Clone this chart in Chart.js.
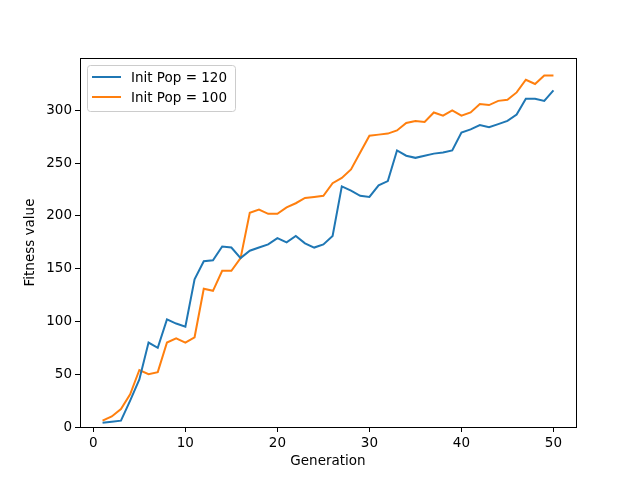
<!DOCTYPE html>
<html>
<head>
<meta charset="utf-8">
<script src="https://cdn.jsdelivr.net/npm/chart.js@4/dist/chart.umd.min.js"></script>
<style>
  html, body { margin: 0; padding: 0; background: #fff; }
  #wrap { width: 640px; height: 480px; }
</style>
</head>
<body>
<div id="wrap"><canvas id="c" width="640" height="480"></canvas></div>
<script>
// values
const generations = Array.from({ length: 50 }, (_, i) => i + 1);
const pop120 = [4, 5, 6, 25, 45, 80, 75, 102, 98, 95,
  140, 157, 158, 171, 170, 160, 167, 170, 173, 179,
  175, 181, 174, 170, 173, 181, 228, 224, 219, 218,
  229, 233, 262, 257, 255, 257, 259, 260, 262, 279,
  282, 286, 284, 287, 290, 296, 311, 311, 309, 319];
const pop100 = [6, 10, 17, 31, 54, 50, 52, 80, 84, 80,
  85, 131, 129, 148, 148, 160, 203, 206, 202, 202,
  208, 212, 217, 218, 219, 231, 236, 244, 260, 276,
  277, 278, 281, 288, 290, 289, 298, 295, 300, 295,
  298, 306, 305, 309, 310, 317, 329, 325, 333, 333];
const xTicks = [0, 10, 20, 30, 40, 50];
const yTicks = [0, 50, 100, 150, 200, 250, 300];
const seriesLabels = ['Init Pop = 120', 'Init Pop = 100'];
const seriesColors = ['#1f77b4', '#ff7f0e'];

const FONT = 'DejaVu Sans';

// draws the axes frame and the boxed legend like matplotlib
const framePlugin = {
  id: 'frame',
  afterDraw(chart) {
    const { ctx, chartArea: a } = chart;
    ctx.save();
    ctx.strokeStyle = '#000';
    ctx.lineWidth = 1;
    ctx.strokeRect(Math.round(a.left) + 0.5, Math.round(a.top) + 0.5,
      Math.round(a.right - a.left), Math.round(a.bottom - a.top));

    // legend
    const bx = 87.5, by = 65.5, bw = 148, bh = 46;
    ctx.fillStyle = 'rgba(255,255,255,0.8)';
    ctx.strokeStyle = '#cccccc';
    ctx.beginPath();
    ctx.roundRect(bx, by, bw, bh, 3);
    ctx.fill();
    ctx.stroke();
    ctx.font = '13.5px "' + FONT + '"';
    ctx.textBaseline = 'middle';
    chart.data.datasets.forEach((ds, i) => {
      const y = 77 + i * 20;
      ctx.strokeStyle = ds.borderColor;
      ctx.lineWidth = 2;
      ctx.beginPath();
      ctx.moveTo(92, y);
      ctx.lineTo(121, y);
      ctx.stroke();
      ctx.fillStyle = '#000';
      ctx.fillText(ds.label, 131, y + 1);
    });
    ctx.restore();
  }
};

new Chart(document.getElementById('c'), {
  type: 'line',
  data: {
    labels: generations,
    datasets: [
      { label: seriesLabels[0], data: generations.map((g, i) => ({ x: g, y: pop120[i] })),
        borderColor: seriesColors[0], borderWidth: 2, pointRadius: 0, tension: 0, fill: false },
      { label: seriesLabels[1], data: generations.map((g, i) => ({ x: g, y: pop100[i] })),
        borderColor: seriesColors[1], borderWidth: 2, pointRadius: 0, tension: 0, fill: false }
    ]
  },
  options: {
    responsive: false,
    animation: false,
    layout: { padding: { left: 22, right: 64, top: 58, bottom: 10 } },
    plugins: {
      legend: { display: false },
      tooltip: { enabled: false }
    },
    scales: {
      x: {
        type: 'linear',
        min: -1.45,
        max: 52.45,
        afterBuildTicks: (axis) => { axis.ticks = xTicks.map(v => ({ value: v })); },
        afterFit: (axis) => { axis.height = 43; },
        grid: { drawOnChartArea: false, drawTicks: true, tickLength: 5, tickColor: '#000', color: '#000' },
        border: { display: false },
        ticks: { color: '#000', font: { family: FONT, size: 13.5 }, padding: 3, maxRotation: 0 },
        title: { display: true, text: 'Generation', color: '#000', font: { family: FONT, size: 13.5 }, padding: { top: 2, bottom: 0 } }
      },
      y: {
        min: 0,
        max: 349.6,
        afterBuildTicks: (axis) => { axis.ticks = yTicks.map(v => ({ value: v })); },
        afterFit: (axis) => { axis.width = 58; },
        grid: { drawOnChartArea: false, drawTicks: true, tickLength: 5, tickColor: '#000', color: '#000' },
        border: { display: false },
        ticks: { color: '#000', font: { family: FONT, size: 13.5 }, padding: 3 },
        title: { display: true, text: 'Fitness value', color: '#000', font: { family: FONT, size: 13.5 }, padding: { top: 0, bottom: 4 } }
      }
    }
  },
  plugins: [framePlugin]
});
</script>
</body>
</html>
